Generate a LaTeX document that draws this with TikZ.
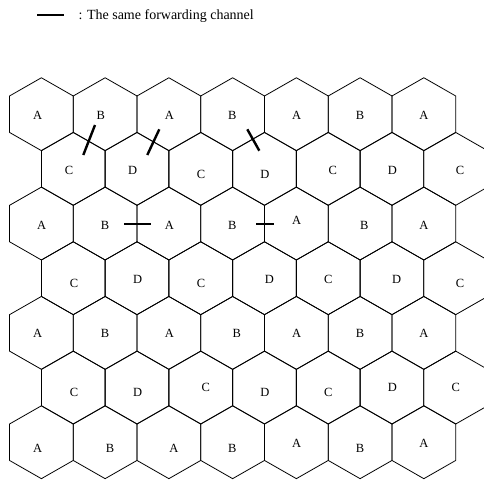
\documentclass[tikz,border=0pt]{standalone}
\usepackage{fontspec}
\setmainfont{Liberation Serif}
\begin{document}
\begin{tikzpicture}[x=1pt,y=-1pt,
  hexline/.style={line width=0.8pt,line join=miter},
  chanbar/.style={line width=2.4pt},
  lbl/.style={font=\fontsize{12.5}{12.5}\selectfont,inner sep=0pt,anchor=center},
  legendtext/.style={font=\fontsize{14}{14}\selectfont,inner sep=0pt,anchor=base west}]
\useasboundingbox (0,0) rectangle (484,479);
\begin{scope}
\clip (0,0) rectangle (484,479);
\def\hexw{31.87}
\def\hexs{36.44}
\foreach \r in {0,...,6} {
  \foreach \c in {0,...,6} {
    \pgfmathsetmacro\cx{41.4+63.74*\c+31.87*mod(\r,2)}
    \pgfmathsetmacro\cy{114.2+54.67*\r}
    \coordinate (h\r\c) at (\cx,\cy);
    \draw[hexline] (h\r\c) ++(0,-\hexs) -- ++(\hexw,\hexs/2) -- ++(0,\hexs)
      -- ++(-\hexw,\hexs/2) -- ++(-\hexw,-\hexs/2) -- ++(0,-\hexs) -- cycle;
  }
}
\end{scope}
% labels row 1
\node[lbl] (l00) at (37.7,115) {A};
\node[lbl] (l01) at (100.7,115) {B};
\node[lbl] (l02) at (169.3,115) {A};
\node[lbl] (l03) at (232.3,115) {B};
\node[lbl] (l04) at (296.7,115) {A};
\node[lbl] (l05) at (360,115) {B};
\node[lbl] (l06) at (424,115) {A};
% row 2
\node[lbl] (l10) at (69,170) {C};
\node[lbl] (l11) at (132.7,170) {D};
\node[lbl] (l12) at (201,174) {C};
\node[lbl] (l13) at (265,174) {D};
\node[lbl] (l14) at (332.7,170) {C};
\node[lbl] (l15) at (392.3,170) {D};
\node[lbl] (l16) at (460,170) {C};
% row 3
\node[lbl] (l20) at (41.7,225) {A};
\node[lbl] (l21) at (105,225) {B};
\node[lbl] (l22) at (169.3,225) {A};
\node[lbl] (l23) at (232.3,225) {B};
\node[lbl] (l24) at (296.7,220) {A};
\node[lbl] (l25) at (364.3,225) {B};
\node[lbl] (l26) at (424,225) {A};
% row 4
\node[lbl] (l30) at (74,283.3) {C};
\node[lbl] (l31) at (137.7,279) {D};
\node[lbl] (l32) at (201,283.3) {C};
\node[lbl] (l33) at (269.3,279) {D};
\node[lbl] (l34) at (328.3,279) {C};
\node[lbl] (l35) at (396.7,279) {D};
\node[lbl] (l36) at (460,283.3) {C};
% row 5
\node[lbl] (l40) at (37.7,333.3) {A};
\node[lbl] (l41) at (105,333.3) {B};
\node[lbl] (l42) at (169.3,333.3) {A};
\node[lbl] (l43) at (236.7,333.3) {B};
\node[lbl] (l44) at (296.7,333.3) {A};
\node[lbl] (l45) at (360,333.3) {B};
\node[lbl] (l46) at (424,333.3) {A};
% row 6
\node[lbl] (l50) at (74,392.3) {C};
\node[lbl] (l51) at (137.7,392.3) {D};
\node[lbl] (l52) at (205.7,387.7) {C};
\node[lbl] (l53) at (265,392.3) {D};
\node[lbl] (l54) at (328.3,392.3) {C};
\node[lbl] (l55) at (392.3,387.7) {D};
\node[lbl] (l56) at (455.7,387.7) {C};
% row 7
\node[lbl] (l60) at (37.7,448.3) {A};
\node[lbl] (l61) at (110,448.3) {B};
\node[lbl] (l62) at (174,448.3) {A};
\node[lbl] (l63) at (232.3,448.3) {B};
\node[lbl] (l64) at (296.7,443.3) {A};
\node[lbl] (l65) at (360,448.3) {B};
\node[lbl] (l66) at (424,443.3) {A};
% forwarding channel bars
\draw[chanbar] (95,125) -- (83.3,155);
\draw[chanbar] (159.3,129.3) -- (147.3,155);
\draw[chanbar] (247.3,129.3) -- (259.3,150.7);
\draw[chanbar] (124,224) -- (150.7,224);
\draw[chanbar] (256,224) -- (274,224);
% legend
\coordinate (lega) at (37.3,14.7);
\coordinate (legb) at (64.3,14.7);
\draw[chanbar] (lega) -- (legb);
\node[legendtext] (legt) at (78.3,19.3) {: The same forwarding channel};
\end{tikzpicture}
\end{document}
